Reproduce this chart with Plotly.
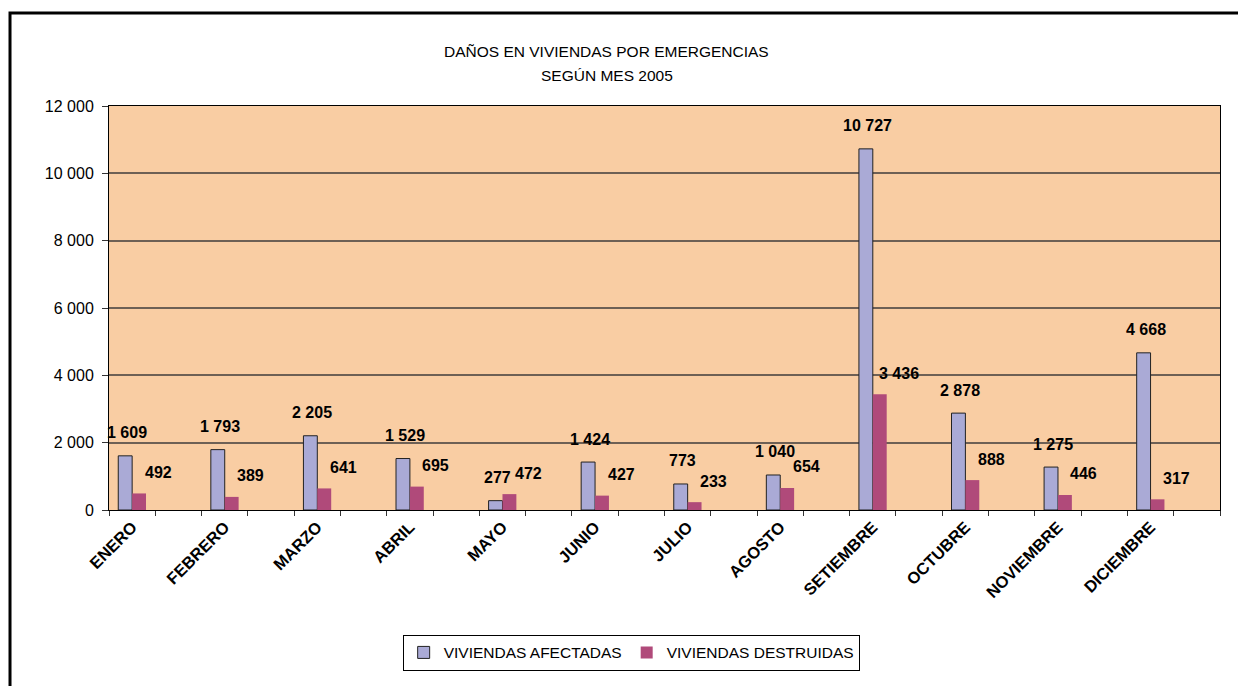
import plotly.graph_objects as go

# datos del gráfico
meses = ["ENERO", "FEBRERO", "MARZO", "ABRIL", "MAYO", "JUNIO", "JULIO",
         "AGOSTO", "SETIEMBRE", "OCTUBRE", "NOVIEMBRE", "DICIEMBRE"]
afectadas = [1609, 1793, 2205, 1529, 277, 1424, 773, 1040, 10727, 2878, 1275, 4668]
destruidas = [492, 389, 641, 695, 472, 427, 233, 654, 3436, 888, 446, 317]
yticks = [0, 2000, 4000, 6000, 8000, 10000, 12000]

# cada mes ocupa una categoría y va seguido de una categoría vacía (como en la hoja original)
pos = [2 * i for i in range(len(meses))]

SANS = "Liberation Sans, Arial"


def fmt(v):
    return f"{v:,}".replace(",", " ")


fig = go.Figure()
fig.add_trace(go.Bar(x=pos, y=afectadas, name="VIVIENDAS AFECTADAS",
                     width=0.3, offset=-0.3,
                     marker=dict(color="#AAAAD6", line=dict(color="#222222", width=1))))
fig.add_trace(go.Bar(x=pos, y=destruidas, name="VIVIENDAS DESTRUIDAS",
                     width=0.3, offset=0,
                     marker=dict(color="#B04A7A", line=dict(width=0))))

# etiquetas de datos
annots = []
for p, a, d in zip(pos, afectadas, destruidas):
    annots.append(dict(x=p - 0.15, y=a, text=fmt(a), showarrow=False, xshift=2, yshift=23,
                       font=dict(family=SANS, size=16, color="black", weight="bold")))
    annots.append(dict(x=p + 0.15, y=d, text=fmt(d), showarrow=False, xshift=19, yshift=21,
                       font=dict(family=SANS, size=16, color="black", weight="bold")))

# título en dos líneas
for txt, yy in [("DAÑOS EN VIVIENDAS POR EMERGENCIAS", 1.1337), ("SEGÚN MES 2005", 1.0767)]:
    annots.append(dict(xref="paper", yref="paper", x=0.448, y=yy, yanchor="middle",
                       text=txt, showarrow=False,
                       font=dict(family=SANS, size=15.5, color="black")))

fig.update_layout(
    width=1238, height=678,
    margin=dict(l=101, r=26, t=98, b=176),
    paper_bgcolor="white", plot_bgcolor="#F9CDA3",
    barmode="overlay", separators=", ",
    annotations=annots,
    showlegend=True,
    legend=dict(orientation="h", x=0.47, xanchor="center", y=-0.309, yanchor="top",
                bordercolor="black", borderwidth=1, bgcolor="white", itemwidth=30,
                font=dict(family=SANS, size=15.5, color="black"), traceorder="normal"),
    shapes=[dict(type="rect", xref="paper", yref="paper", x0=-0.0891, y0=1.23, x1=1.2, y1=-0.6,
                 line=dict(color="black", width=3), fillcolor="rgba(0,0,0,0)", layer="above")],
)

fig.update_xaxes(range=[-0.5, 23.5], tickmode="array", tickvals=pos, ticktext=meses,
                 tickangle=-45, ticks="", showgrid=False, zeroline=False,
                 showline=True, linecolor="black", linewidth=1, mirror=True,
                 tickfont=dict(family=SANS, size=16.5, color="black", weight="bold"),
                 minor=dict(tickmode="linear", tick0=-0.5, dtick=1, ticks="outside",
                            ticklen=5, tickcolor="#333333", showgrid=False))
fig.update_yaxes(range=[0, 12000], tickmode="array", tickvals=yticks, tickformat=",d",
                 ticks="outside", ticklen=6, tickcolor="#333333", ticklabelstandoff=5,
                 showgrid=True, gridcolor="#6E6055", gridwidth=1.5, zeroline=False,
                 showline=True, linecolor="black", linewidth=1, mirror=True,
                 tickfont=dict(family=SANS, size=16, color="black"))

fig.write_html("out.html")
